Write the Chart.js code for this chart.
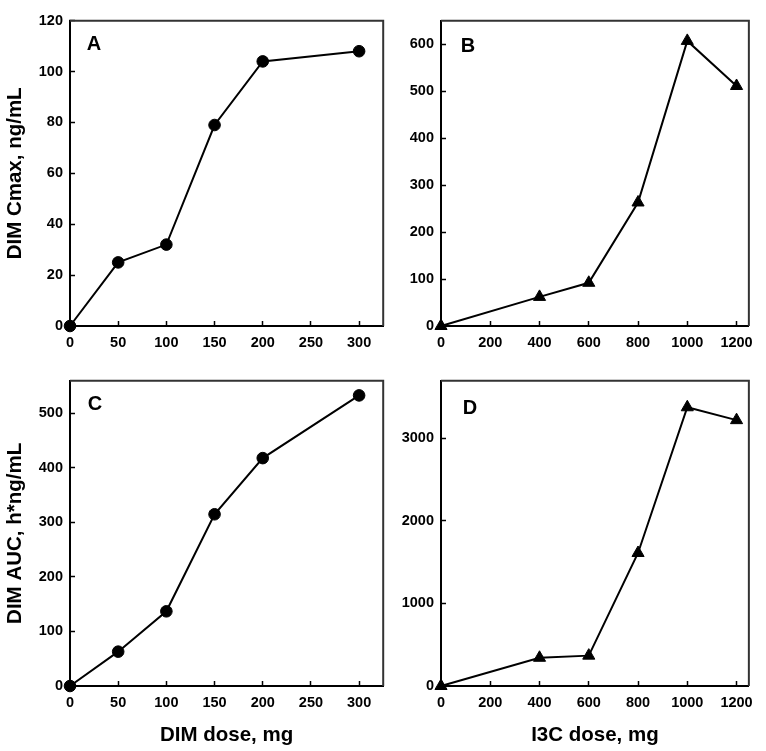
<!DOCTYPE html>
<html>
<head>
<meta charset="utf-8">
<script src="https://cdn.jsdelivr.net/npm/chart.js@4.4.0/dist/chart.umd.min.js"></script>
<style>
  html, body { margin: 0; padding: 0; background: #fff; }
  #wrap { position: relative; width: 766px; height: 751px; }
  .panel { position: absolute; }
</style>
</head>
<body>
<div id="wrap">
  <div class="panel" style="left:0;top:0;width:390px;height:360px"><canvas id="chartA"></canvas></div>
  <div class="panel" style="left:390px;top:0;width:376px;height:360px"><canvas id="chartB"></canvas></div>
  <div class="panel" style="left:0;top:360px;width:390px;height:391px"><canvas id="chartC"></canvas></div>
  <div class="panel" style="left:390px;top:360px;width:376px;height:391px"><canvas id="chartD"></canvas></div>
</div>
<script>
// doses
const dimDoses = [0, 50, 100, 150, 200, 300];
const i3cDoses = [0, 400, 600, 800, 1000, 1200];

// measured values
const dimCmax = [0, 25, 32, 79, 104, 108];
const i3cCmax = [0, 62, 92, 263, 607, 511];
const dimAuc = [0, 63, 137, 315, 418, 533];
const i3cAuc = [0, 342, 368, 1612, 3378, 3222];

// tick labels
const dimDoseTicks = [0, 50, 100, 150, 200, 250, 300];
const i3cDoseTicks = [0, 200, 400, 600, 800, 1000, 1200];
const dimCmaxTicks = [0, 20, 40, 60, 80, 100, 120];
const i3cCmaxTicks = [0, 100, 200, 300, 400, 500, 600];
const dimAucTicks = [0, 100, 200, 300, 400, 500];
const i3cAucTicks = [0, 1000, 2000, 3000];

const family = "'Liberation Sans', Arial, sans-serif";
const tickFont = { family: family, size: 14.5, weight: "bold" };
const titleFont = { family: family, size: 20.5, weight: "bold" };

// box around the plot area
const framePlugin = {
  id: "frame",
  beforeDatasetsDraw(chart) {
    const a = chart.chartArea;
    const ctx = chart.ctx;
    ctx.save();
    ctx.strokeStyle = "#333";
    ctx.lineWidth = 2;
    ctx.beginPath();
    ctx.moveTo(a.left, a.top);
    ctx.lineTo(a.right, a.top);
    ctx.lineTo(a.right, a.bottom);
    ctx.stroke();
    ctx.restore();
  },
};

// panel letter in the top left corner
const letterPlugin = {
  id: "letter",
  afterDraw(chart, args, opts) {
    const a = chart.chartArea;
    const ctx = chart.ctx;
    ctx.save();
    ctx.fillStyle = "#000";
    ctx.font = "bold 20px " + family;
    ctx.textAlign = "center";
    ctx.textBaseline = "middle";
    ctx.fillText(opts.text, a.left + opts.dx, a.top + opts.dy);
    ctx.restore();
  },
};

function makePanel(id, p) {
  return new Chart(document.getElementById(id), {
    type: "line",
    data: {
      datasets: [
        {
          data: p.xs.map((x, i) => ({ x: x, y: p.ys[i] })),
          borderColor: "#000",
          backgroundColor: "#000",
          borderWidth: 2,
          pointStyle: p.marker,
          pointRadius: p.marker == "triangle" ? 7 : 5.8,
          pointBorderWidth: 1,
          tension: 0,
          clip: false,
        },
      ],
    },
    options: {
      animation: false,
      responsive: true,
      maintainAspectRatio: false,
      layout: { padding: { left: 0, right: p.rightPad, top: p.topPad, bottom: 0 } },
      plugins: {
        legend: { display: false },
        tooltip: { enabled: false },
        letter: { text: p.letter, dx: p.dx, dy: p.dy },
      },
      scales: {
        x: {
          type: "linear",
          min: 0,
          max: p.xMax,
          afterBuildTicks: (s) => { s.ticks = p.xTicks.map((v) => ({ value: v })); },
          afterFit: (s) => { s.height = p.xHeight; },
          grid: { drawOnChartArea: false, drawTicks: true, tickLength: -5, tickWidth: 1.5, tickColor: "#000" },
          border: { display: true, color: "#000", width: 2 },
          ticks: { color: "#000", font: tickFont, padding: 13, maxRotation: 0, autoSkip: false, callback: (v) => String(v) },
          title: { display: !!p.xTitle, text: p.xTitle, color: "#000", font: titleFont, padding: { top: 0, bottom: 3 } },
        },
        y: {
          type: "linear",
          min: 0,
          max: p.yMax,
          afterBuildTicks: (s) => { s.ticks = p.yTicks.map((v) => ({ value: v })); },
          afterFit: (s) => { s.width = p.yWidth; },
          grid: { drawOnChartArea: false, drawTicks: true, tickLength: -5, tickWidth: 1.5, tickColor: "#000" },
          border: { display: true, color: "#000", width: 2 },
          ticks: { color: "#000", font: tickFont, padding: 12, autoSkip: false, callback: (v) => String(v) },
          title: { display: !!p.yTitle, text: p.yTitle, color: "#000", font: titleFont, padding: { top: 3, bottom: 0 } },
        },
      },
    },
    plugins: [framePlugin, letterPlugin],
  });
}

makePanel("chartA", {
  xs: dimDoses, ys: dimCmax, marker: "circle", letter: "A", dx: 24, dy: 24,
  xMax: 325, yMax: 120, xTicks: dimDoseTicks, yTicks: dimCmaxTicks,
  yTitle: "DIM Cmax, ng/mL", xTitle: "",
  yWidth: 70, xHeight: 34, topPad: 10, rightPad: 3,
});

makePanel("chartB", {
  xs: i3cDoses, ys: i3cCmax, marker: "triangle", letter: "B", dx: 27, dy: 26,
  xMax: 1250, yMax: 650, xTicks: i3cDoseTicks, yTicks: i3cCmaxTicks,
  yTitle: "", xTitle: "",
  yWidth: 51, xHeight: 34, topPad: 10, rightPad: 8,
});

makePanel("chartC", {
  xs: dimDoses, ys: dimAuc, marker: "circle", letter: "C", dx: 25, dy: 24,
  xMax: 325, yMax: 560, xTicks: dimDoseTicks, yTicks: dimAucTicks,
  yTitle: "DIM AUC, h*ng/mL", xTitle: "DIM dose, mg",
  yWidth: 70, xHeight: 65, topPad: 9, rightPad: 3,
});

makePanel("chartD", {
  xs: i3cDoses, ys: i3cAuc, marker: "triangle", letter: "D", dx: 29, dy: 28,
  xMax: 1250, yMax: 3700, xTicks: i3cDoseTicks, yTicks: i3cAucTicks,
  yTitle: "", xTitle: "I3C dose, mg",
  yWidth: 51, xHeight: 65, topPad: 9, rightPad: 8,
});
</script>
</body>
</html>
